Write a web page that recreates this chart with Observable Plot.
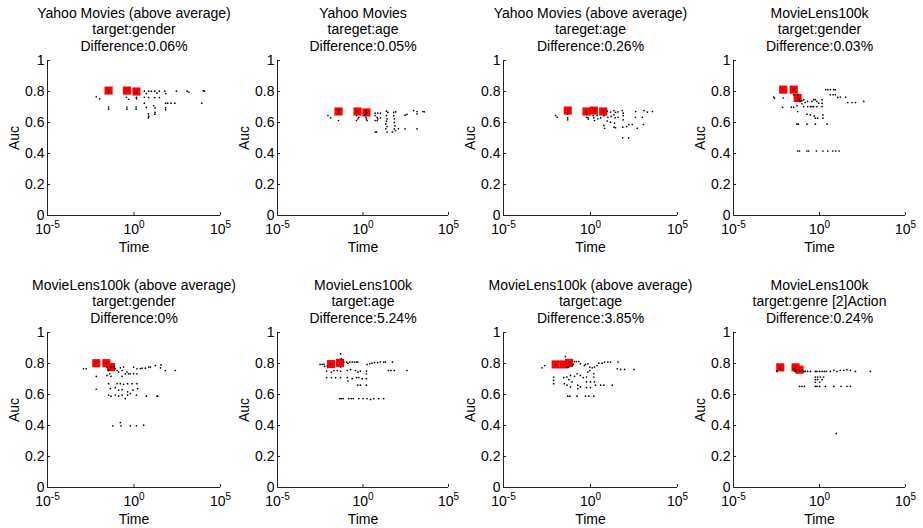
<!DOCTYPE html>
<html><head><meta charset="utf-8">
<script src="https://cdn.jsdelivr.net/npm/d3@7"></script>
<script src="https://cdn.jsdelivr.net/npm/@observablehq/plot@0.6"></script>
<style>
html,body{margin:0;padding:0;background:#fff;}
#chart{position:relative;width:923px;height:528px;font-family:"Liberation Sans",Arial,sans-serif;}
#chart svg{position:absolute;overflow:visible;}
</style></head><body><div id="chart"></div>
<script>
// ---- text ----
const datasetNames = ["Yahoo Movies (above average)", "Yahoo Movies", "Yahoo Movies (above average)", "MovieLens100k",
  "MovieLens100k (above average)", "MovieLens100k", "MovieLens100k (above average)", "MovieLens100k"];
const targets = ["target:gender", "tareget:age", "tareget:age", "target:gender",
  "target:gender", "target:age", "target:age", "target:genre [2]Action"];
const differences = ["Difference:0.06%", "Difference:0.05%", "Difference:0.26%", "Difference:0.03%",
  "Difference:0%", "Difference:5.24%", "Difference:3.85%", "Difference:0.24%"];
const xLabel = "Time";
const yLabel = "Auc";
const xTicks = [1e-5, 1, 1e5];
const xTickExponents = ["-5", "0", "5"];
const yTicks = [0, 0.2, 0.4, 0.6, 0.8, 1];
const yTickLabels = ["0", "0.2", "0.4", "0.6", "0.8", "1"];

// ---- data: [log10(Time), Auc] ----
const p1Front = [[-1.47,0.806],[-0.41,0.806],[0.14,0.80]];
const p1All = [[-2.18,0.766],[-1.99,0.753],[-1.47,0.796],[-1.47,0.70],[-1.47,0.686],
 [-0.44,0.763],[-0.41,0.70],[-0.41,0.686],[-0.31,0.75],[0.14,0.789],[0.14,0.763],[0.14,0.753],[0.12,0.70],[0.12,0.686],
 [0.6,0.802],[0.71,0.787],[0.85,0.802],[1.0,0.802],[1.2,0.802],[1.33,0.789],[1.47,0.802],[1.78,0.802],[1.83,0.787],
 [0.6,0.763],[0.85,0.761],[1.2,0.761],[1.47,0.761],
 [0.6,0.725],[0.71,0.697],[1.14,0.708],[1.22,0.695],[0.83,0.656],[0.85,0.641],[1.22,0.665],[1.2,0.654],[1.83,0.725],[1.83,0.695],[1.83,0.682],[1.95,0.725],[2.14,0.725],[2.36,0.725],
 [0.83,0.63],[2.45,0.802],[3.07,0.802],[3.17,0.796],[4.0,0.806],[4.07,0.802],[3.92,0.725]];

const p2Front = [[-1.43,0.671],[-0.32,0.671],[0.2,0.665]];
const p2All = [[-2.05,0.645],[-1.89,0.63],[-1.43,0.682],[-1.43,0.66],[-1.43,0.613],
 [-0.38,0.645],[-0.38,0.613],[-0.3,0.624],[-0.24,0.634],[0.17,0.677],[0.17,0.656],[0.17,0.634],[0.2,0.622],[0.24,0.613],[0.09,0.647],
 [0.71,0.66],[0.86,0.66],[1.02,0.66],[1.37,0.673],[1.45,0.665],[1.80,0.665],[1.91,0.669],
 [0.71,0.645],[0.83,0.634],[0.86,0.624],[0.71,0.613],[0.83,0.613],[1.02,0.63],[1.37,0.645],[1.41,0.624],[1.37,0.609],[1.33,0.591],[1.41,0.574],[1.33,0.559],[1.80,0.645],[1.83,0.624],[1.83,0.6],[1.87,0.578],[1.83,0.559],[1.91,0.548],
 [0.71,0.538],[0.79,0.538],[1.41,0.538],[1.72,0.538],[2.07,0.559],[2.46,0.559],[3.16,0.559],
 [2.46,0.647],[2.57,0.652],[2.96,0.677],[3.16,0.671],[3.16,0.656],[3.5,0.671],[3.58,0.669]];

const p3Front = [[-1.31,0.677],[-0.23,0.671],[0.19,0.677],[0.73,0.671]];
const p3All = [[-2.0,0.645],[-1.92,0.634],[-1.31,0.656],[-1.31,0.63],[-1.31,0.617],
 [-0.23,0.652],[-0.23,0.634],[-0.15,0.63],[-0.12,0.622],[0.15,0.645],[0.19,0.63],[0.23,0.613],[0.38,0.645],[0.42,0.624],[0.58,0.63],
 [0.96,0.673],[1.15,0.667],[1.35,0.677],[1.44,0.665],[1.58,0.669],[1.83,0.677],[1.88,0.66],[2.6,0.671],[3.08,0.677],[3.27,0.667],[3.56,0.671],
 [0.77,0.645],[1.0,0.634],[1.19,0.639],[1.35,0.65],[1.42,0.63],[1.58,0.634],[1.88,0.645],[1.88,0.617],[2.58,0.634],[2.98,0.634],
 [0.96,0.609],[1.15,0.602],[1.38,0.596],[0.77,0.581],[0.81,0.563],[1.35,0.57],[1.44,0.566],[1.85,0.57],[2.08,0.574],[2.21,0.587],[2.4,0.587],[2.69,0.563],[3.04,0.587],
 [1.85,0.501],[2.19,0.501]];

const p4Front = [[-2.11,0.812],[-1.5,0.812],[-1.27,0.758]];
const p4All = [[-2.67,0.764],[-2.61,0.758],[-2.11,0.758],[-2.15,0.697],
 [-1.64,0.699],[-1.5,0.699],[-1.31,0.708],[-1.27,0.671],[-1.23,0.589],[-1.31,0.589],[-1.5,0.779],[-1.27,0.779],
 [-1.19,0.747],[-1.12,0.736],[-1.02,0.74],[-0.92,0.747],[-1.02,0.721],[-0.92,0.703],[-0.83,0.729],[-0.69,0.736],[-0.69,0.703],[-0.53,0.703],[-0.44,0.736],[-0.34,0.747],[-0.24,0.747],[-0.15,0.736],[-0.44,0.703],[-0.34,0.703],[-0.15,0.703],[-0.05,0.725],[0.15,0.747],[0.15,0.725],[0.15,0.703],
 [-0.73,0.654],[-0.53,0.649],[-0.3,0.643],[-0.24,0.628],[-0.11,0.628],[0.2,0.649],[0.2,0.628],
 [-0.73,0.589],[-0.24,0.589],[0.44,0.589],
 [0.36,0.812],[0.48,0.812],[0.63,0.812],[0.83,0.812],[0.92,0.812],[0.63,0.779],[0.79,0.779],[0.92,0.779],[1.06,0.762],[1.21,0.764],[1.52,0.764],[1.64,0.729],[1.89,0.729],[2.09,0.729],[2.57,0.736],
 [-1.27,0.416],[-1.16,0.416],[-0.73,0.416],[-0.63,0.416],[-0.18,0.416],[0.2,0.416],[0.48,0.416],[0.77,0.416],[0.94,0.416],[1.14,0.416]];

const p5Front = [[-2.18,0.802],[-1.6,0.802],[-1.33,0.777]];
const p5All = [[-2.92,0.766],[-2.76,0.766],[-2.18,0.717],[-2.18,0.634],
 [-1.56,0.777],[-1.47,0.755],[-1.41,0.734],[-1.56,0.723],[-1.33,0.717],[-1.47,0.67],[-1.37,0.638],[-1.47,0.596],[-1.33,0.589],
 [-1.18,0.777],[-1.08,0.766],[-0.98,0.755],[-0.89,0.745],[-0.79,0.772],[-0.69,0.755],[-0.6,0.777],[-0.5,0.734],[-0.41,0.745],[-0.31,0.734],[-0.21,0.734],[-0.02,0.734],[0.17,0.734],[-0.69,0.717],[-0.98,0.67],[-0.79,0.67],[-0.6,0.666],[-0.37,0.67],[-0.12,0.67],[0.17,0.67],
 [-1.08,0.645],[-0.89,0.628],[-0.69,0.632],[-0.37,0.617],[-0.06,0.628],[0.21,0.638],
 [-1.08,0.596],[-0.89,0.589],[-0.69,0.596],[-0.5,0.574],[-0.37,0.596],[-0.21,0.606],[0.14,0.596],[0.71,0.589],[1.33,0.589],[1.37,0.589],
 [-0.02,0.777],[0.17,0.766],[0.37,0.766],[0.46,0.77],[0.66,0.77],[0.85,0.777],[0.95,0.777],[1.24,0.787],[1.56,0.791],[1.53,0.772],[1.81,0.755],[2.39,0.755],
 [-1.22,0.398],[-0.79,0.419],[-0.75,0.398],[-0.21,0.398],[0.14,0.398],[0.56,0.402]];

const p6Front = [[-1.87,0.796],[-1.35,0.804]];
const p6All = [[-2.51,0.794],[-2.38,0.794],[-2.28,0.794],[-2.24,0.781],[-2.09,0.787],
 [-1.31,0.862],[-1.27,0.83],[-1.31,0.777],
 [-1.12,0.809],[-0.96,0.809],[-0.88,0.802],[-0.77,0.809],[-0.63,0.809],[-0.5,0.809],[-0.38,0.809],[-0.3,0.809],
 [0.24,0.794],[0.4,0.798],[0.53,0.802],[0.67,0.806],[0.86,0.806],[1.02,0.811],[1.21,0.809],[1.31,0.809],[1.72,0.809],
 [-2.13,0.751],[-1.85,0.745],[-1.7,0.755],[-1.5,0.755],[-1.31,0.751],[-0.92,0.755],[-0.73,0.76],[-0.44,0.755],[-0.3,0.745],[-0.15,0.751],[0.2,0.751],[0.2,0.734],
 [-2.13,0.709],[-1.85,0.709],[-1.6,0.709],[-1.31,0.709],[-0.92,0.709],[-0.63,0.702],[-0.38,0.709],[-0.24,0.709],[-0.05,0.702],[0.2,0.702],[-0.88,0.687],
 [-0.3,0.66],[-0.15,0.66],[0.2,0.66],
 [1.49,0.755],[1.64,0.755],[1.83,0.755],[2.57,0.755],
 [-1.35,0.574],[-1.27,0.574],[-1.16,0.574],[-0.83,0.574],[-0.69,0.574],[-0.57,0.574],[-0.24,0.574],[0.01,0.574],[0.24,0.574],[0.44,0.568],[0.63,0.574],[0.92,0.574],[1.21,0.574]];

const p7Front = [[-2.0,0.794],[-1.54,0.794],[-1.23,0.804]];
const p7All = [[-2.79,0.772],[-2.63,0.787],[-2.12,0.713],[-2.12,0.691],[-2.12,0.67],
 [-1.44,0.845],[-1.35,0.777],[-1.25,0.777],[-1.19,0.787],[-0.92,0.813],[-0.81,0.813],[-0.67,0.813],[-1.0,0.794],[-0.58,0.798],
 [-0.35,0.787],[-0.29,0.794],[-0.15,0.798],[-0.04,0.777],[0.1,0.772],[0.23,0.777],[0.38,0.787],[0.48,0.802],[0.67,0.802],[0.81,0.809],[1.0,0.809],[1.15,0.809],[1.58,0.809],[1.54,0.766],[1.73,0.762],[1.96,0.762],[2.5,0.762],
 [-1.54,0.709],[-1.35,0.713],[-1.25,0.696],[-1.15,0.723],[-1.06,0.681],[-0.92,0.717],[-0.77,0.734],[-0.58,0.723],[-0.42,0.709],[-0.23,0.713],[-0.15,0.745],[-0.04,0.755],[0.19,0.734],[0.19,0.713],[-0.23,0.681],[0.0,0.681],[0.23,0.681],
 [-1.5,0.67],[-1.35,0.66],[-1.15,0.649],[-0.73,0.66],[-0.73,0.638],[-0.58,0.649],[-0.23,0.645],[0.0,0.645],[0.29,0.66],[0.58,0.66],[0.77,0.66],[1.25,0.66],
 [-1.31,0.589],[-1.19,0.589],[-0.77,0.589],[-0.29,0.589],[-0.1,0.589],[0.19,0.589]];

const p8Front = [[-2.28,0.775],[-1.39,0.775],[-1.16,0.76]];
const p8All = [[-2.48,0.749],[-2.28,0.764],[-1.47,0.764],[-1.41,0.749],[-1.27,0.76],[-1.12,0.749],[-1.02,0.756],[-0.92,0.749],[-0.83,0.749],[-0.69,0.749],[-0.53,0.749],[-0.24,0.749],[-0.15,0.749],[0.01,0.749],[0.15,0.749],[0.28,0.749],[0.4,0.749],[0.63,0.749],[0.83,0.756],[1.02,0.749],[1.21,0.756],[1.41,0.756],[1.6,0.76],[1.8,0.756],[2.09,0.749],[2.96,0.749],
 [-0.24,0.713],[-0.11,0.713],[0.05,0.713],[0.24,0.713],[-0.24,0.696],[-0.11,0.696],[0.15,0.696],[-0.24,0.679],[0.01,0.679],
 [-1.16,0.653],[-1.02,0.653],[-0.88,0.653],[-0.24,0.653],[-0.15,0.653],[0.01,0.653],[0.34,0.653],[0.83,0.653],[1.25,0.653],[1.6,0.653],[1.8,0.653],
 [0.98,0.349]];

const fronts = [p1Front, p2Front, p3Front, p4Front, p5Front, p6Front, p7Front, p8Front];
const clouds = [p1All, p2All, p3All, p4All, p5All, p6All, p7All, p8All];

// ---- layout ----
const FONT = "'Liberation Sans', Arial, Helvetica, sans-serif";
const axisLeft = [47, 277, 503, 733];
const frameWidth = [173, 171, 174, 172];
const rowTop = [0, 272];
const M = {left: 47, right: 12, top: 60, bottom: 45};
const frameHeight = 155;
const AXIS = "#222";

const chart = document.getElementById("chart");
const xOf = d => 10 ** d[0];
const yOf = d => d[1];

for (let i = 0; i < 8; i++) {
  const col = i % 4, row = Math.floor(i / 4);
  const title = `${datasetNames[i]}\n${targets[i]}\n${differences[i]}`;
  const svg = Plot.plot({
    width: M.left + frameWidth[col] + M.right,
    height: M.top + frameHeight + M.bottom,
    marginLeft: M.left, marginRight: M.right, marginTop: M.top, marginBottom: M.bottom,
    x: {type: "log", domain: [1e-5, 1e5]},
    y: {domain: [0, 1]},
    style: {fontFamily: FONT, fontSize: "14px", color: "#000", background: "transparent", overflow: "visible"},
    marks: [
      Plot.ruleY([0], {stroke: AXIS, strokeWidth: 1}),
      Plot.ruleX([1e-5], {stroke: AXIS, strokeWidth: 1}),
      Plot.axisX({ticks: xTicks, tickSize: -3, tickPadding: 12, label: null,
        tickFormat: d => "10^" + xTickExponents[xTicks.indexOf(d)], stroke: AXIS}),
      Plot.axisY({ticks: yTicks, tickSize: -3, tickPadding: 6, label: null,
        tickFormat: d => yTickLabels[yTicks.indexOf(d)], stroke: AXIS}),
      Plot.dot(fronts[i], {x: xOf, y: yOf, symbol: "square", r: 4.6, fill: "#ff0000", stroke: "none"}),
      Plot.dot(clouds[i], {x: xOf, y: yOf, r: 0.85, fill: "#000", stroke: "none"}),
      Plot.dot(fronts[i], {x: xOf, y: yOf, r: 0.85, fill: "#000", stroke: "none"}),
      Plot.text([title], {text: d => d, frameAnchor: "top", textAnchor: "middle", lineAnchor: "bottom", dy: -10, lineHeight: 1.165, fontSize: 14, fill: "#000"}),
      Plot.text([xLabel], {text: d => d, frameAnchor: "bottom", textAnchor: "middle", lineAnchor: "bottom", dy: 36, fontSize: 14, fill: "#000"}),
      Plot.text([yLabel], {text: d => d, frameAnchor: "left", textAnchor: "middle", lineAnchor: "bottom", rotate: -90, dx: -29, fontSize: 14, fill: "#000"})
    ]
  });
  svg.style.left = (axisLeft[col] - M.left) + "px";
  svg.style.top = rowTop[row] + "px";
  // superscript exponents on x tick labels
  d3.select(svg).selectAll('g[aria-label="x-axis tick label"] text').each(function() {
    const parts = this.textContent.split("^");
    const t = d3.select(this);
    t.text(null);
    t.append("tspan").text(parts[0]);
    t.append("tspan").attr("dy", "-0.6em").attr("font-size", "10px").text(parts[1]);
  });
  chart.appendChild(svg);
}
</script>
</body></html>
